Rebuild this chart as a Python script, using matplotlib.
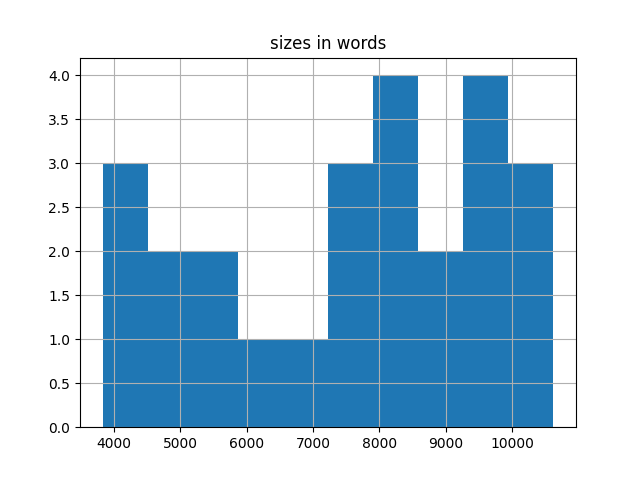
import matplotlib
matplotlib.use("Agg")
import matplotlib.pyplot as plt
import pandas as pd

# word counts per document
sizes = [3834, 4100, 4400,
         4700, 5000,
         5400, 5700,
         6200,
         6900,
         7300, 7500, 7800,
         8000, 8100, 8300, 8500,
         8800, 9100,
         9400, 9600, 9800, 9900,
         10100, 10400, 10618]

df = pd.DataFrame({"sizes in words": sizes})

fig, ax = plt.subplots(figsize=(6.4, 4.8), dpi=100)
df.hist(column="sizes in words", bins=10, ax=ax)

plt.savefig("out.png")
